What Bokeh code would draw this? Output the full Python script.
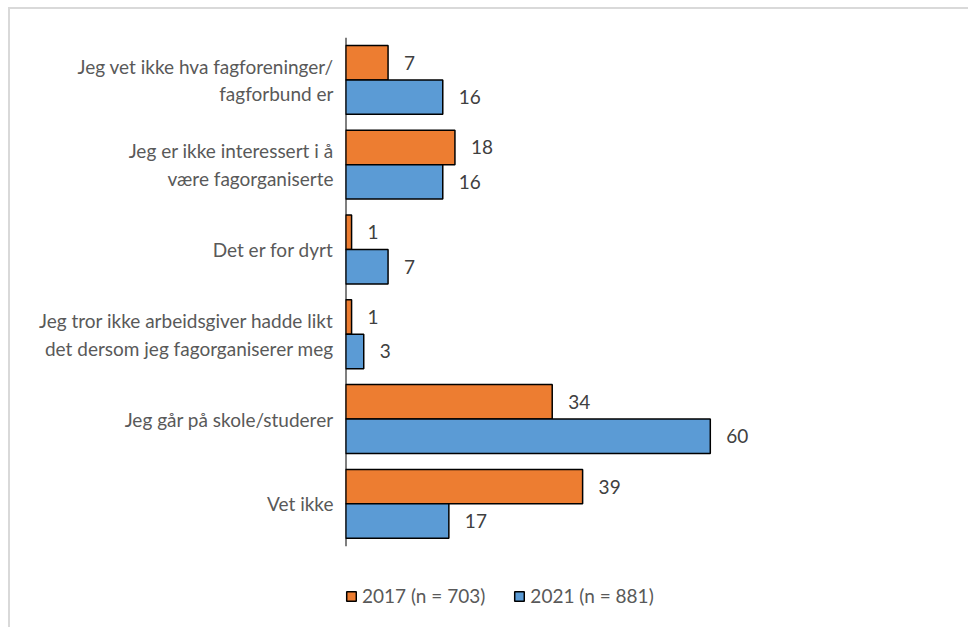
from bokeh.plotting import figure
from bokeh.models import ColumnDataSource, LabelSet, Legend, LegendItem, Range1d, FixedTicker
from bokeh.transform import dodge
from bokeh.core.properties import value
from bokeh.embed import file_html
from bokeh.resources import INLINE

categories = [
    "Jeg vet ikke hva fagforeninger/\nfagforbund er",
    "Jeg er ikke interessert i å\nvære fagorganiserte",
    "Det er for dyrt",
    "Jeg tror ikke arbeidsgiver hadde likt\ndet dersom jeg fagorganiserer meg",
    "Jeg går på skole/studerer",
    "Vet ikke",
]
values_2017 = [7, 18, 1, 1, 34, 39]
values_2021 = [16, 16, 7, 3, 60, 17]
series_names = ["2017 (n = 703)", "2021 (n = 881)"]

FONT = "Lato"
FS = "19px"
n = len(categories)
pos = [n - i for i in range(n)]  # top category highest

src = ColumnDataSource(dict(pos=pos, v17=values_2017, v21=values_2021,
                            t17=[str(v) for v in values_2017],
                            t21=[str(v) for v in values_2021]))

p = figure(frame_width=608, frame_height=585,
           y_range=Range1d(-0.4, n + 0.5), x_range=Range1d(0, 100),
           output_backend="svg", toolbar_location=None,
           min_border_left=335, min_border_right=15, min_border_top=28, min_border_bottom=5)
p.styles = {"margin-left": "8px", "margin-top": "7px",
            "border-top": "2px solid #d9d9d9", "border-left": "2px solid #d9d9d9"}
p.outline_line_color = None
p.grid.visible = False
p.xaxis.visible = False

off = 0.203
h = 0.406
r17 = p.hbar(y=dodge("pos", off), right="v17", left=0, height=h, source=src,
             fill_color="#ED7D31", line_color="black", line_width=1.5)
r21 = p.hbar(y=dodge("pos", -off), right="v21", left=0, height=h, source=src,
             fill_color="#5B9BD5", line_color="black", line_width=1.5)

# category axis line (spans only the category bands)
p.segment(x0=[0], y0=[0.5], x1=[0], y1=[n + 0.5], line_color="black", line_width=2)

for col, txt, o in [("v17", "t17", off), ("v21", "t21", -off)]:
    p.add_layout(LabelSet(x=col, y=dodge("pos", o), text=txt, source=src,
                          x_offset=16, text_baseline="middle", text_align="left",
                          text_font=value(FONT), text_font_size=value(FS),
                          text_color="#404040"))

ax = p.yaxis[0]
ax.ticker = FixedTicker(ticks=pos)
ax.major_label_overrides = {pv: c for pv, c in zip(pos, categories)}
ax.axis_line_color = None
ax.major_tick_line_color = None
ax.minor_tick_line_color = None
ax.major_label_standoff = 6
ax.major_label_text_font = FONT
ax.major_label_text_font_size = FS
ax.major_label_text_color = "#595959"

legend = Legend(items=[LegendItem(label=series_names[0], renderers=[r17]),
                       LegendItem(label=series_names[1], renderers=[r21])],
                orientation="horizontal", location=(0, 15), padding=0, margin=0,
                spacing=28, glyph_width=12, glyph_height=12, label_standoff=5,
                label_text_font=FONT, label_text_font_size=FS, label_text_color="#595959",
                border_line_color=None, background_fill_alpha=0)
p.add_layout(legend, "center")

open("out.html", "w").write(file_html(p, INLINE))
